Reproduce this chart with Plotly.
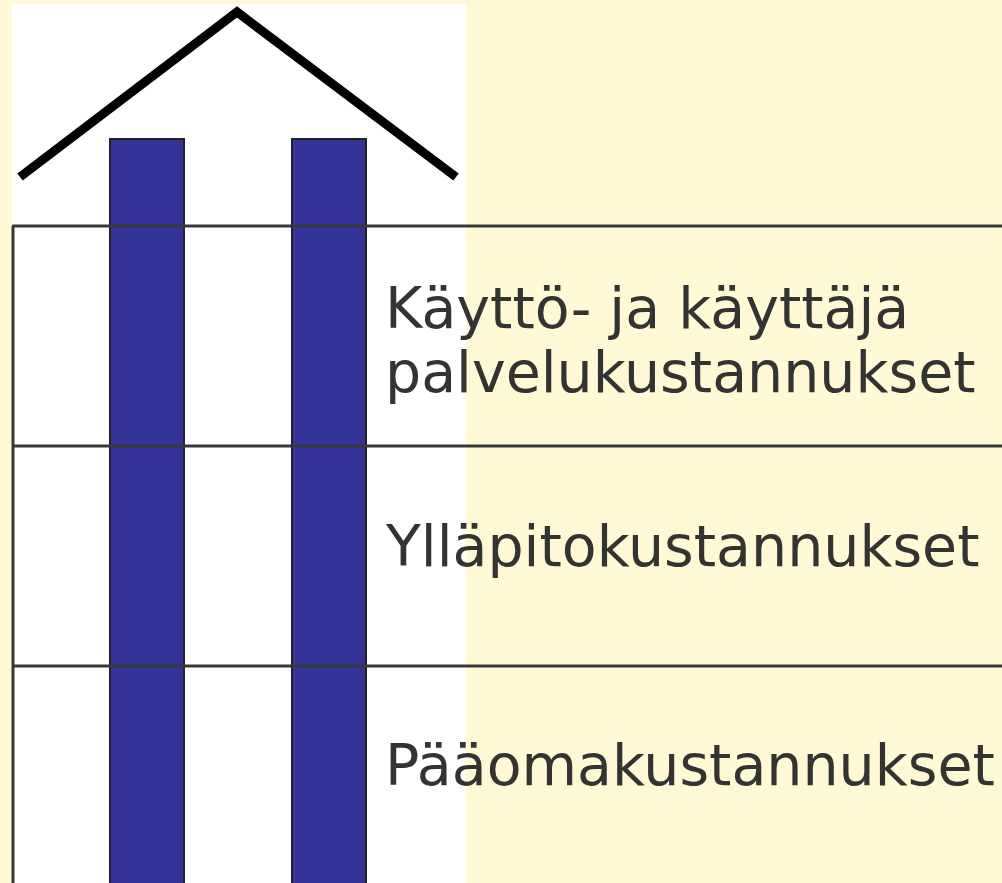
import plotly.graph_objects as go

# --- data ---
row_labels = [
    ["Käyttö- ja käyttäjä", "palvelukustannukset"],
    ["Ylläpitokustannukset"],
    ["Pääomakustannukset"],
]
row_boundaries = [226, 446, 666, 883]        # y of divider lines (top to bottom)
pillar_x = [[110, 184], [292, 366]]          # left/right edges of the two pillars
pillar_top = 139
roof_x = [20, 237, 456]
roof_y = [177, 12, 177]
house_box = [12, 4, 466, 883]                # white area

W, H = 1002, 883
BG = "#FFF9D6"
TEXT = "#333333"

fig = go.Figure()

shapes = []
shapes.append(dict(type="rect", xref="x", yref="y", x0=house_box[0], y0=house_box[1],
                   x1=house_box[2], y1=house_box[3] + 5, fillcolor="white", line=dict(width=0), layer="below"))
for x0, x1 in pillar_x:
    shapes.append(dict(type="rect", xref="x", yref="y", x0=x0, x1=x1, y0=pillar_top, y1=H + 5,
                       fillcolor="#333399", line=dict(color="#222222", width=2)))
for yb in row_boundaries[:-1]:
    shapes.append(dict(type="line", xref="x", yref="y", x0=house_box[0], x1=W + 5, y0=yb, y1=yb,
                       line=dict(color="#383838", width=3)))
shapes.append(dict(type="line", xref="x", yref="y", x0=house_box[0] + 1, x1=house_box[0] + 1,
                   y0=row_boundaries[0], y1=H + 5, line=dict(color="#383838", width=3)))

fig.add_trace(go.Scatter(x=roof_x, y=roof_y, mode="lines",
                         line=dict(color="black", width=9), hoverinfo="skip", showlegend=False))

annotations = []
text_x = 383
for i, lines in enumerate(row_labels):
    top, bot = row_boundaries[i], row_boundaries[i + 1]
    mid = (top + bot) / 2
    if len(lines) == 1:
        ys = [mid - 10]
    else:
        ys = [mid - 28, mid + 36]
    for ln, yy in zip(lines, ys):
        annotations.append(dict(x=text_x, y=yy, xref="x", yref="y", text=ln, showarrow=False,
                                xanchor="left", yanchor="middle",
                                font=dict(family="DejaVu Sans", size=57, color=TEXT)))

fig.update_layout(
    width=W, height=H, margin=dict(l=0, r=0, t=0, b=0),
    paper_bgcolor=BG, plot_bgcolor=BG,
    xaxis=dict(range=[0, W], visible=False, fixedrange=True),
    yaxis=dict(range=[H, 0], visible=False, fixedrange=True),
    shapes=shapes, annotations=annotations, showlegend=False,
)

fig.write_html("out.html", config={"displayModeBar": False},
               post_script="document.body.style.margin='0';document.body.style.overflow='hidden';")
